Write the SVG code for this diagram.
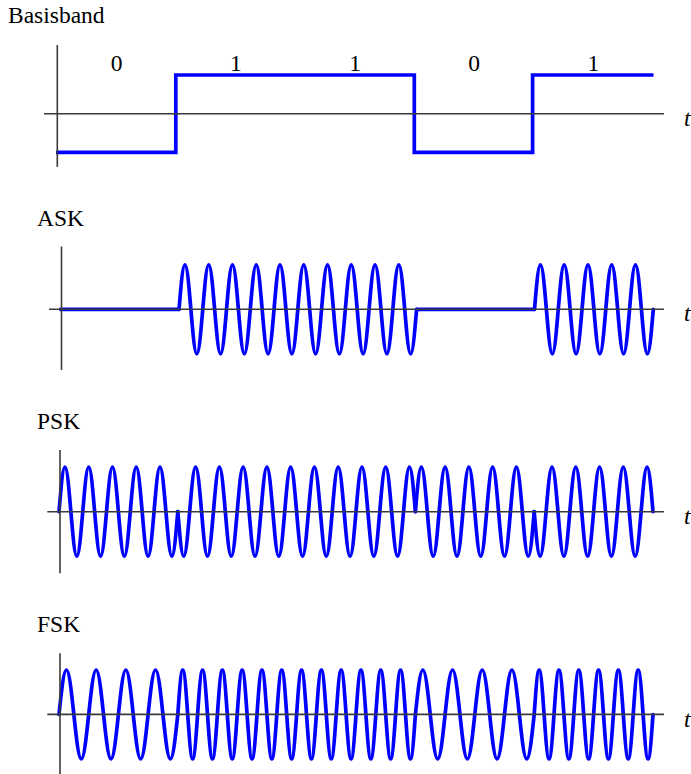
<svg xmlns="http://www.w3.org/2000/svg" xmlns:xlink="http://www.w3.org/1999/xlink" width="691" height="774" viewBox="0 0 691 774">
<style>
.sig{fill:none;stroke:#0000ff;stroke-width:3.7;stroke-linejoin:miter;stroke-linecap:round}
.ax{fill:none;stroke:#3a3a3a;stroke-width:1.6}
.lbl{font-family:"Liberation Serif","Times New Roman",serif;font-size:23.5px;fill:#000}
.t{font-family:"Liberation Serif","Times New Roman",serif;font-size:23.5px;font-style:italic;fill:#000}
</style>
<defs>
<path id="b5" d="M0,0 c1.937,-22.797 3.790,-44.5 5.94,-44.5 c2.150,0 4.003,21.703 5.94,44.5 c1.937,22.797 3.790,44.5 5.94,44.5 c2.150,0 4.003,-21.703 5.94,-44.5 c1.937,-22.797 3.790,-44.5 5.94,-44.5 c2.150,0 4.003,21.703 5.94,44.5 c1.937,22.797 3.790,44.5 5.94,44.5 c2.150,0 4.003,-21.703 5.94,-44.5 c1.937,-22.797 3.790,-44.5 5.94,-44.5 c2.150,0 4.003,21.703 5.94,44.5 c1.937,22.797 3.790,44.5 5.94,44.5 c2.150,0 4.003,-21.703 5.94,-44.5 c1.937,-22.797 3.790,-44.5 5.94,-44.5 c2.150,0 4.003,21.703 5.94,44.5 c1.937,22.797 3.790,44.5 5.94,44.5 c2.150,0 4.003,-21.703 5.94,-44.5 c1.937,-22.797 3.790,-44.5 5.94,-44.5 c2.150,0 4.003,21.703 5.94,44.5 c1.937,22.797 3.790,44.5 5.94,44.5 c2.150,0 4.003,-21.703 5.94,-44.5"/>
<path id="b4" d="M0,0 c2.422,-22.797 4.738,-44.5 7.425,-44.5 c2.687,0 5.003,21.703 7.425,44.5 c2.422,22.797 4.738,44.5 7.425,44.5 c2.687,0 5.003,-21.703 7.425,-44.5 c2.422,-22.797 4.738,-44.5 7.425,-44.5 c2.687,0 5.003,21.703 7.425,44.5 c2.422,22.797 4.738,44.5 7.425,44.5 c2.687,0 5.003,-21.703 7.425,-44.5 c2.422,-22.797 4.738,-44.5 7.425,-44.5 c2.687,0 5.003,21.703 7.425,44.5 c2.422,22.797 4.738,44.5 7.425,44.5 c2.687,0 5.003,-21.703 7.425,-44.5 c2.422,-22.797 4.738,-44.5 7.425,-44.5 c2.687,0 5.003,21.703 7.425,44.5 c2.422,22.797 4.738,44.5 7.425,44.5 c2.687,0 5.003,-21.703 7.425,-44.5"/>
<path id="b6" d="M0,0 c1.614,-22.797 3.159,-44.5 4.95,-44.5 c1.792,0 3.336,21.703 4.95,44.5 c1.614,22.797 3.159,44.5 4.95,44.5 c1.792,0 3.336,-21.703 4.95,-44.5 c1.614,-22.797 3.159,-44.5 4.95,-44.5 c1.792,0 3.336,21.703 4.95,44.5 c1.614,22.797 3.159,44.5 4.95,44.5 c1.792,0 3.336,-21.703 4.95,-44.5 c1.614,-22.797 3.159,-44.5 4.95,-44.5 c1.792,0 3.336,21.703 4.95,44.5 c1.614,22.797 3.159,44.5 4.95,44.5 c1.792,0 3.336,-21.703 4.95,-44.5 c1.614,-22.797 3.159,-44.5 4.95,-44.5 c1.792,0 3.336,21.703 4.95,44.5 c1.614,22.797 3.159,44.5 4.95,44.5 c1.792,0 3.336,-21.703 4.95,-44.5 c1.614,-22.797 3.159,-44.5 4.95,-44.5 c1.792,0 3.336,21.703 4.95,44.5 c1.614,22.797 3.159,44.5 4.95,44.5 c1.792,0 3.336,-21.703 4.95,-44.5 c1.614,-22.797 3.159,-44.5 4.95,-44.5 c1.792,0 3.336,21.703 4.95,44.5 c1.614,22.797 3.159,44.5 4.95,44.5 c1.792,0 3.336,-21.703 4.95,-44.5"/>
</defs>
<g id="basisband">
<text class="lbl" x="8" y="22.5">Basisband</text>
<g text-anchor="middle">
<text class="lbl" x="116.6" y="70.7">0</text>
<text class="lbl" x="235.8" y="70.7">1</text>
<text class="lbl" x="355" y="70.7">1</text>
<text class="lbl" x="474.2" y="70.7">0</text>
<text class="lbl" x="593.4" y="70.7">1</text>
</g>
<path class="sig" style="stroke-linecap:butt" d="M56,152.3 H175.8 V75 H414.3 V152.3 H532.6 V75 H653.5"/>
<line class="ax" x1="57.3" y1="45" x2="57.3" y2="167"/>
<line class="ax" x1="44" y1="113.8" x2="664" y2="113.8"/>
<text class="t" x="684" y="125.5">t</text>
</g>
<g id="ask">
<text class="lbl" x="37" y="225.5">ASK</text>
<path class="sig" d="M60.5,309.3 H179"/>
<use xlink:href="#b5" href="#b5" class="sig" x="179" y="309.3"/>
<use xlink:href="#b5" href="#b5" class="sig" x="297.8" y="309.3"/>
<path class="sig" d="M416.6,309.3 H534.5"/>
<use xlink:href="#b5" href="#b5" class="sig" x="534.5" y="309.3"/>
<line class="ax" x1="61.5" y1="246.5" x2="61.5" y2="370"/>
<line class="ax" x1="49" y1="309.3" x2="664" y2="309.3"/>
<text class="t" x="684" y="321">t</text>
</g>
<g id="psk">
<text class="lbl" x="37" y="429">PSK</text>
<use xlink:href="#b5" href="#b5" class="sig" transform="translate(59,511.7)"/>
<use xlink:href="#b5" href="#b5" class="sig" transform="translate(177.8,511.7) scale(1,-1)"/>
<use xlink:href="#b5" href="#b5" class="sig" transform="translate(296.6,511.7) scale(1,-1)"/>
<use xlink:href="#b5" href="#b5" class="sig" transform="translate(415.4,511.7)"/>
<use xlink:href="#b5" href="#b5" class="sig" transform="translate(534.2,511.7) scale(1,-1)"/>
<line class="ax" x1="60" y1="450" x2="60" y2="573.3"/>
<line class="ax" x1="47.3" y1="511.7" x2="664" y2="511.7"/>
<text class="t" x="684" y="523.5">t</text>
</g>
<g id="fsk">
<text class="lbl" x="37" y="632">FSK</text>
<use xlink:href="#b4" href="#b4" class="sig" x="59" y="714.5"/>
<use xlink:href="#b6" href="#b6" class="sig" x="177.8" y="714.5"/>
<use xlink:href="#b6" href="#b6" class="sig" x="296.6" y="714.5"/>
<use xlink:href="#b4" href="#b4" class="sig" x="415.4" y="714.5"/>
<use xlink:href="#b6" href="#b6" class="sig" x="534.2" y="714.5"/>
<line class="ax" x1="60" y1="653.3" x2="60" y2="774"/>
<line class="ax" x1="47.3" y1="714.4" x2="664" y2="714.4"/>
<text class="t" x="684" y="726.5">t</text>
</g>
</svg>
